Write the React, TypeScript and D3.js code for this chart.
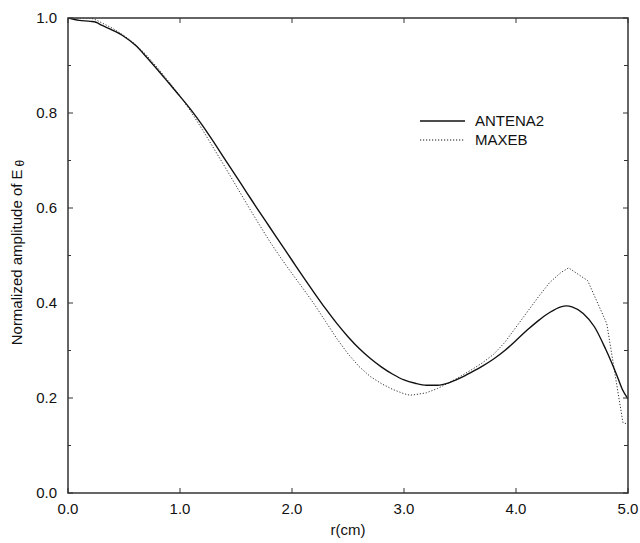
import React from "react";
import * as d3 from "d3";

const antenaR = [0.0, 0.1, 0.2, 0.25, 0.3, 0.4, 0.5, 0.6, 0.7, 0.8, 0.9, 1.0, 1.1, 1.2, 1.3, 1.4, 1.5, 1.6, 1.7, 1.8, 1.9, 2.0, 2.1, 2.2, 2.3, 2.4, 2.5, 2.6, 2.7, 2.8, 2.9, 3.0, 3.1, 3.2, 3.3, 3.4, 3.5, 3.6, 3.7, 3.8, 3.9, 4.0, 4.1, 4.2, 4.3, 4.4, 4.45, 4.5, 4.6, 4.7, 4.8, 4.9, 4.95, 5.0];
const antenaE = [1.0, 0.995, 0.993, 0.991, 0.985, 0.974, 0.961, 0.943, 0.918, 0.891, 0.863, 0.835, 0.806, 0.774, 0.739, 0.703, 0.667, 0.631, 0.595, 0.56, 0.525, 0.49, 0.455, 0.421, 0.388, 0.357, 0.329, 0.304, 0.283, 0.265, 0.25, 0.238, 0.231, 0.227, 0.227, 0.232, 0.242, 0.254, 0.267, 0.282, 0.3, 0.321, 0.343, 0.363, 0.38, 0.392, 0.394, 0.392, 0.378, 0.35, 0.303, 0.248, 0.218, 0.198];

const maxebR = [0.0, 0.1, 0.2, 0.25, 0.3, 0.4, 0.5, 0.6, 0.7, 0.8, 0.9, 1.0, 1.1, 1.2, 1.3, 1.4, 1.5, 1.6, 1.7, 1.8, 1.9, 2.0, 2.1, 2.2, 2.3, 2.4, 2.5, 2.6, 2.7, 2.8, 2.9, 3.0, 3.05, 3.1, 3.2, 3.3, 3.4, 3.5, 3.6, 3.7, 3.8, 3.9, 4.0, 4.1, 4.2, 4.3, 4.4, 4.47, 4.64, 4.81, 4.955, 5.0];
const maxebE = [1.0, 1.0, 1.0, 0.996, 0.99, 0.978, 0.963, 0.945, 0.922, 0.895, 0.866, 0.836, 0.802, 0.765, 0.726, 0.687, 0.647, 0.607, 0.568, 0.53, 0.495, 0.462, 0.43, 0.397, 0.361, 0.325, 0.293, 0.266, 0.245, 0.23, 0.218, 0.209, 0.206, 0.207, 0.211, 0.22, 0.232, 0.245, 0.259, 0.274, 0.292, 0.317, 0.349, 0.381, 0.413, 0.443, 0.464, 0.474, 0.447, 0.357, 0.148, 0.145];

const xTicks = [0, 1, 2, 3, 4, 5];
const yMajor = [0, 0.2, 0.4, 0.6, 0.8, 1.0];
const yMinor = [0.1, 0.3, 0.5, 0.7, 0.9];
const seriesNames = ["ANTENA2", "MAXEB"];

const W = 640, H = 543;
const left = 68, right = 628, top = 18, bottom = 493;
const FONT = "'Liberation Sans', Arial, Helvetica, sans-serif";

export default function App() {
  const x = d3.scaleLinear().domain([0, 5]).range([left, right]);
  const y = d3.scaleLinear().domain([0, 1]).range([bottom, top]);
  const solidLine = d3.line<number>().x((_, i) => x(antenaR[i])).y((d) => y(d)).curve(d3.curveMonotoneX);
  const dotLine = d3.line<number>().x((_, i) => x(maxebR[i])).y((d) => y(d)).curve(d3.curveLinear);
  const axisColor = "#333";
  return (
    <div style={{ position: "fixed", left: 0, top: 0 }}>
      <svg width={W} height={H} style={{ display: "block", background: "#fff" }}>
        <defs>
          <clipPath id="plot">
            <rect x={left} y={top} width={right - left} height={bottom - top} />
          </clipPath>
        </defs>
        <g clipPath="url(#plot)">
          <path d={dotLine(maxebE) || ""} fill="none" stroke="#333" strokeWidth={1} strokeDasharray="1.2,1.8" />
          <path d={solidLine(antenaE) || ""} fill="none" stroke="#111" strokeWidth={1.4} />
        </g>
        <rect x={left} y={top} width={right - left} height={bottom - top} fill="none" stroke={axisColor} strokeWidth={1.5} />
        {xTicks.map((t) => (
          <g key={"x" + t}>
            <line x1={x(t)} x2={x(t)} y1={bottom} y2={bottom - 5} stroke={axisColor} strokeWidth={1} />
            <line x1={x(t)} x2={x(t)} y1={top} y2={top + 5} stroke={axisColor} strokeWidth={1} />
            <text x={x(t)} y={514} textAnchor="middle" fontFamily={FONT} fontSize={15} fill="#111">
              {t.toFixed(1)}
            </text>
          </g>
        ))}
        {yMajor.map((t) => (
          <g key={"y" + t}>
            <line x1={left} x2={left + 5} y1={y(t)} y2={y(t)} stroke={axisColor} strokeWidth={1} />
            <line x1={right} x2={right - 5} y1={y(t)} y2={y(t)} stroke={axisColor} strokeWidth={1} />
            <text x={57} y={y(t) + 5} textAnchor="end" fontFamily={FONT} fontSize={15} fill="#111">
              {t.toFixed(1)}
            </text>
          </g>
        ))}
        {yMinor.map((t) => (
          <g key={"ym" + t}>
            <line x1={left} x2={left + 3} y1={y(t)} y2={y(t)} stroke={axisColor} strokeWidth={1} />
            <line x1={right} x2={right - 4} y1={y(t)} y2={y(t)} stroke={axisColor} strokeWidth={1} />
          </g>
        ))}
        <text x={(left + right) / 2} y={535} textAnchor="middle" fontFamily={FONT} fontSize={15} fill="#111">
          r(cm)
        </text>
        <text transform={`translate(22,${(top + bottom) / 2 - 3}) rotate(-90)`} textAnchor="middle" fontFamily={FONT} fontSize={15} fill="#111">
          Normalized amplitude of E
          <tspan fontSize={12} dx={3} dy={2}>θ</tspan>
        </text>
        {seriesNames.map((name, i) => (
          <g key={name}>
            <line x1={420} x2={465} y1={121 + i * 19} y2={121 + i * 19} stroke="#111" strokeWidth={i === 0 ? 1.4 : 1} strokeDasharray={i === 0 ? undefined : "1.2,1.8"} />
            <text x={475} y={126 + i * 19} fontFamily={FONT} fontSize={15} fill="#111">
              {name}
            </text>
          </g>
        ))}
      </svg>
    </div>
  );
}
